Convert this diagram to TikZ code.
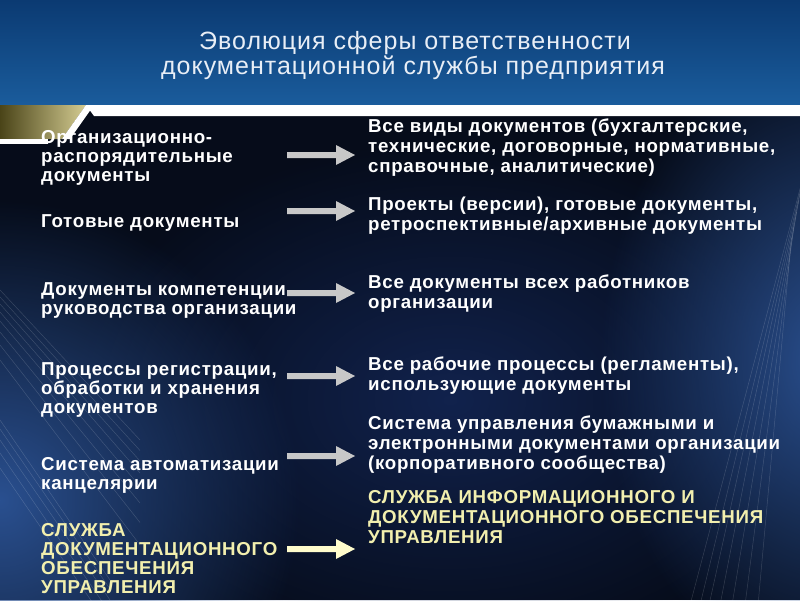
\documentclass[tikz,border=0pt]{standalone}
\usepackage{fontspec}
\setmainfont{Liberation Sans}
\newfontfamily\bodyfont[LetterSpace=3.8]{Liberation Sans}
\newfontfamily\titlefont[LetterSpace=4]{Liberation Sans}
\usetikzlibrary{shadings,fadings}
\definecolor{topblueA}{HTML}{0B3A72}
\definecolor{topblueB}{HTML}{1A5C9C}
\definecolor{goldA}{HTML}{4A4418}
\definecolor{goldB}{HTML}{D4CC92}
\definecolor{paleyellow}{HTML}{F2EFAE}
\definecolor{arrowgray}{HTML}{C8C8C8}
\definecolor{arrowyellow}{HTML}{FFFCCC}
\definecolor{titlecol}{HTML}{E8EEF6}
\definecolor{bgbase}{HTML}{060C1A}
\definecolor{glowblue}{HTML}{2A5090}
\definecolor{midblue}{HTML}{14285A}
\tikzfading[name=glow, inner color=transparent!0, outer color=transparent!100]
\tikzset{
  lefttext/.style={anchor=base west, inner sep=0pt, align=left, text=white,
    font=\bodyfont\bfseries\fontsize{18.7}{19}\selectfont},
  righttext/.style={anchor=base west, inner sep=0pt, align=left, text=white,
    font=\bodyfont\bfseries\fontsize{18.7}{20}\selectfont},
  yellowtext/.style={text=paleyellow},
  titletext/.style={text=titlecol, font=\titlefont\fontsize{25}{25}\selectfont, anchor=base, inner sep=0pt},
  streak/.style={draw=white, line width=0.5pt, opacity=0.16},
}
\begin{document}
\begin{tikzpicture}[x=1pt,y=-1pt]
\useasboundingbox (0,0) rectangle (800,600);
% dark background
\begin{scope}
\clip (0,105) rectangle (800,600);
\fill[bgbase] (0,105) rectangle (800,600);
\fill[midblue, path fading=glow, opacity=0.8] (450,400) ellipse [x radius=380, y radius=260];
\fill[glowblue, path fading=glow] (0,500) ellipse [x radius=300, y radius=300];
\fill[glowblue, path fading=glow] (830,360) ellipse [x radius=230, y radius=320];
% streaks left
\foreach \d in {0,7,14,22,31,42,55,70}{
  \draw[streak] (0,290+\d) -- (140,440+\d*1.5);
}
\foreach \d in {0,9,20,33,48}{
  \draw[streak] (0,420+\d) -- (110,580+\d);
}
% streaks right
\foreach \d in {0,10,19,30,42,55,68}{
  \draw[streak] (805-\d*0.2,170+\d) -- (690+\d,605);
}
\end{scope}
% top band
\shade[top color=topblueA, bottom color=topblueB] (0,0) rectangle (800,105);
% gold corner
\shade[left color=goldA, right color=goldB] (0,105) -- (86,105) -- (62,139) -- (0,139) -- cycle;
% white strip and bar
\fill[white] (86,105) -- (800,105) -- (800,116) -- (94,116) -- cycle;
\fill[white] (86,105) -- (94,105) -- (70,139) -- (62,139) -- cycle;
\fill[white] (0,139) rectangle (48,144);
% title
\node[titletext] (title) at (415,49) {Эволюция сферы ответственности};
\node[titletext] (title2) at (413,74) {документационной службы предприятия};
% left column (anchor = baseline of last line)
\node[lefttext] (l1) at (41,181) {Организационно-\\распорядительные\\документы};
\node[lefttext] (l2) at (41,227) {Готовые документы};
\node[lefttext] (l3) at (41,314) {Документы  компетенции\\руководства организации};
\node[lefttext] (l4) at (41,413) {Процессы регистрации,\\обработки и хранения\\документов};
\node[lefttext] (l5) at (41,489) {Система автоматизации\\канцелярии};
\node[lefttext, yellowtext] (l6) at (41,593) {СЛУЖБА\\ДОКУМЕНТАЦИОННОГО\\ОБЕСПЕЧЕНИЯ\\УПРАВЛЕНИЯ};
% right column
\node[righttext] (r1) at (368,172) {Все виды документов (бухгалтерские,\\технические, договорные, нормативные,\\справочные, аналитические)};
\node[righttext] (r2) at (368,230) {Проекты (версии), готовые документы,\\ретроспективные/архивные документы};
\node[righttext] (r3) at (368,308) {Все документы всех работников\\организации};
\node[righttext] (r4) at (368,390) {Все рабочие процессы (регламенты),\\использующие документы};
\node[righttext] (r5) at (368,469) {Система управления бумажными и\\электронными документами организации\\(корпоративного сообщества)};
\node[righttext, yellowtext] (r6) at (368,543) {СЛУЖБА ИНФОРМАЦИОННОГО И\\ДОКУМЕНТАЦИОННОГО ОБЕСПЕЧЕНИЯ\\УПРАВЛЕНИЯ};
% arrows
\foreach \n/\yy/\c in {a1/155/arrowgray, a2/211/arrowgray, a3/293/arrowgray, a4/376/arrowgray, a5/456/arrowgray, a6/549/arrowyellow}{
  \coordinate (\n s) at (287,\yy);
  \coordinate (\n e) at (355,\yy);
  \fill[\c] (\n s) ++(0,-3) -- ++(49,0) -- ++(0,-7) -- (\n e) -- ++(-19,10) -- ++(0,-7) -- ++(-49,0) -- cycle;
}
\end{tikzpicture}
\end{document}
